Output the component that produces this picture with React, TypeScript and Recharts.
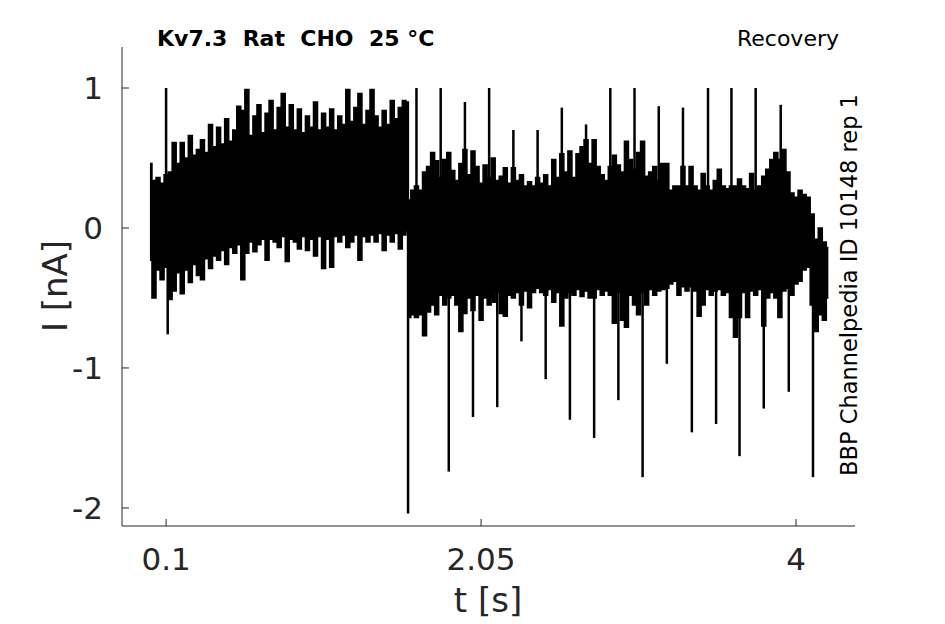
import React from "react";
import { ComposedChart, Area, XAxis, YAxis, ReferenceLine } from "recharts";

// Band of the noisy current trace: time [s], upper and lower envelope [nA]
const bandT = [
  0.0, 0.025, 0.05, 0.075, 0.1, 0.125, 0.15, 0.175, 0.2, 0.225, 0.25, 0.275, 0.3, 0.325, 0.35, 0.375,
  0.4, 0.425, 0.45, 0.475, 0.5, 0.525, 0.55, 0.575, 0.6, 0.625, 0.65, 0.675, 0.7, 0.725, 0.75, 0.775,
  0.8, 0.825, 0.85, 0.875, 0.9, 0.925, 0.95, 0.975, 1.0, 1.025, 1.05, 1.075, 1.1, 1.125, 1.15, 1.175,
  1.2, 1.225, 1.25, 1.275, 1.3, 1.325, 1.35, 1.375, 1.4, 1.425, 1.45, 1.475, 1.5, 1.525, 1.55, 1.575, 1.595,
  1.605, 1.625, 1.65, 1.675, 1.7, 1.725, 1.75, 1.775, 1.8, 1.825, 1.85, 1.875, 1.9, 1.925, 1.95, 1.975,
  2.0, 2.025, 2.05, 2.075, 2.1, 2.125, 2.15, 2.175, 2.2, 2.225, 2.25, 2.275, 2.3, 2.325, 2.35, 2.375,
  2.4, 2.425, 2.45, 2.475, 2.5, 2.525, 2.55, 2.575, 2.6, 2.625, 2.65, 2.675, 2.7, 2.725, 2.75, 2.775,
  2.8, 2.825, 2.85, 2.875, 2.9, 2.925, 2.95, 2.975, 3.0, 3.025, 3.05, 3.075, 3.1, 3.125, 3.15, 3.175,
  3.2, 3.225, 3.25, 3.275, 3.3, 3.325, 3.35, 3.375, 3.4, 3.425, 3.45, 3.475, 3.5, 3.525, 3.55, 3.575,
  3.6, 3.625, 3.65, 3.675, 3.7, 3.725, 3.75, 3.775, 3.8, 3.825, 3.85, 3.875, 3.9, 3.925, 3.95, 3.975,
  4.0, 4.025, 4.05, 4.075, 4.1, 4.125, 4.15, 4.175, 4.2,
];

const bandHi = [
  0.46, 0.34, 0.36, 0.32, 0.38, 0.4, 0.61, 0.46, 0.61, 0.5, 0.66, 0.52, 0.56, 0.63, 0.54, 0.74,
  0.58, 0.72, 0.6, 0.78, 0.62, 0.7, 0.87, 0.84, 0.99, 0.66, 0.8, 0.88, 0.68, 0.82, 0.91, 0.7,
  0.86, 0.96, 0.72, 0.88, 0.7, 0.85, 0.68, 0.8, 0.72, 0.9, 0.7, 0.82, 0.72, 0.85, 0.7, 0.8,
  0.74, 0.99, 0.76, 0.86, 0.96, 0.74, 0.84, 0.99, 0.8, 0.72, 0.84, 0.74, 0.91, 0.78, 0.86, 0.91, 0.9,
  0.2, 0.27, 0.3, 0.27, 0.4, 0.44, 0.54, 0.48, 0.36, 0.49, 0.54, 0.41, 0.34, 0.46, 0.56, 0.38,
  0.55, 0.44, 0.32, 0.45, 0.36, 0.5, 0.34, 0.37, 0.43, 0.32, 0.43, 0.34, 0.38, 0.3, 0.33, 0.3,
  0.36, 0.32, 0.38, 0.3, 0.49, 0.36, 0.53, 0.4, 0.55, 0.36, 0.53, 0.58, 0.63, 0.46, 0.63, 0.44,
  0.38, 0.34, 0.44, 0.52, 0.45, 0.4, 0.62, 0.49, 0.42, 0.54, 0.62, 0.37, 0.4, 0.44, 0.34, 0.46,
  0.46, 0.27, 0.3, 0.3, 0.44, 0.3, 0.44, 0.3, 0.27, 0.39, 0.3, 0.27, 0.34, 0.42, 0.3, 0.28,
  0.3, 0.3, 0.35, 0.3, 0.28, 0.39, 0.27, 0.3, 0.37, 0.42, 0.49, 0.54, 0.49, 0.56, 0.4, 0.25,
  0.22, 0.27, 0.24, 0.22, 0.1, -0.08, 0.0, -0.1, -0.14,
];

const bandLo = [
  -0.23, -0.5, -0.3, -0.37, -0.28, -0.51, -0.45, -0.32, -0.47, -0.3, -0.39, -0.26, -0.34, -0.37, -0.22, -0.29,
  -0.2, -0.23, -0.16, -0.26, -0.14, -0.18, -0.12, -0.37, -0.18, -0.1, -0.17, -0.12, -0.08, -0.23, -0.08, -0.1,
  -0.14, -0.06, -0.24, -0.08, -0.1, -0.15, -0.06, -0.16, -0.08, -0.2, -0.06, -0.29, -0.08, -0.28, -0.06, -0.1,
  -0.05, -0.14, -0.1, -0.05, -0.23, -0.06, -0.1, -0.05, -0.1, -0.04, -0.16, -0.05, -0.1, -0.04, -0.15, -0.05, -0.02,
  -0.64, -0.62, -0.64, -0.62, -0.77, -0.6, -0.55, -0.62, -0.48, -0.55, -0.5, -0.48, -0.55, -0.74, -0.61, -0.5,
  -0.59, -0.48, -0.66, -0.5, -0.55, -0.53, -0.46, -0.61, -0.63, -0.48, -0.5, -0.46, -0.55, -0.45, -0.57, -0.46,
  -0.43, -0.46, -0.48, -0.44, -0.53, -0.46, -0.7, -0.5, -0.46, -0.48, -0.44, -0.49, -0.45, -0.5, -0.5, -0.44,
  -0.48, -0.45, -0.48, -0.68, -0.46, -0.66, -0.71, -0.48, -0.55, -0.62, -0.46, -0.55, -0.44, -0.48, -0.45, -0.44,
  -0.43, -0.4, -0.38, -0.48, -0.42, -0.45, -0.42, -0.45, -0.63, -0.55, -0.44, -0.48, -0.45, -0.44, -0.48, -0.46,
  -0.64, -0.78, -0.64, -0.46, -0.64, -0.45, -0.48, -0.44, -0.7, -0.5, -0.46, -0.5, -0.64, -0.45, -0.43, -0.48,
  -0.4, -0.38, -0.3, -0.28, -0.55, -0.74, -0.62, -0.66, -0.5,
];

// Upward transients (time [s], peak [nA])
const upSpikeT = [0.1, 1.65, 1.8, 1.95, 2.1, 2.25, 2.4, 2.55, 2.7, 2.85, 3.0, 3.15, 3.3, 3.455, 3.6, 3.75, 3.905];
const upSpikeV = [1.0, 1.0, 1.0, 0.9, 1.0, 0.7, 0.7, 0.86, 0.74, 1.0, 1.0, 0.87, 0.86, 1.0, 1.0, 1.0, 0.88];

// Downward transients (time [s], trough [nA])
const downSpikeT = [0.11, 1.598, 1.85, 2.0, 2.15, 2.3, 2.45, 2.6, 2.75, 2.9, 3.05, 3.2, 3.355, 3.505, 3.65, 3.8, 3.955, 4.105];
const downSpikeV = [-0.76, -2.04, -1.74, -1.35, -1.28, -0.81, -1.08, -1.37, -1.5, -1.23, -1.78, -0.97, -1.46, -1.4, -1.63, -1.29, -1.17, -1.78];

const xTicks = [0.1, 2.05, 4];
const yTicks = [-2, -1, 0, 1];

const xDomain = [-0.173, 4.365];
const yDomain = [-2.129, 1.293];

const AX = "#262626";
const FONT = "DejaVu Sans";

const bandData = bandT.map((t, i) => ({ t, range: [bandLo[i], bandHi[i]] }));

const XTick = (props: any) => {
  const { x, y, payload } = props;
  return (
    <g>
      <line x1={x} x2={x} y1={y} y2={y - 7} stroke={AX} strokeWidth={1} />
      <text x={x} y={y + 44} textAnchor="middle" fontSize={31} fill={AX} fontFamily={FONT}>
        {String(payload.value)}
      </text>
    </g>
  );
};

const YTick = (props: any) => {
  const { x, y, payload } = props;
  return (
    <g>
      <line x1={x} x2={x + 7} y1={y} y2={y} stroke={AX} strokeWidth={1} />
      <text x={x - 19} y={y + 11} textAnchor="end" fontSize={31} fill={AX} fontFamily={FONT}>
        {String(payload.value)}
      </text>
    </g>
  );
};

export default function App() {
  return (
    <div style={{ position: "absolute", left: 0, top: 0, width: 945, height: 624, background: "#fff" }}>
      <ComposedChart
        width={945}
        height={624}
        data={bandData}
        margin={{ top: 47, right: 90, bottom: 38, left: 42 }}
      >
        <XAxis
          type="number"
          dataKey="t"
          domain={xDomain}
          ticks={xTicks}
          allowDataOverflow
          height={60}
          tickSize={0}
          tickMargin={0}
          tickLine={false}
          axisLine={{ stroke: AX, strokeWidth: 1 }}
          tick={<XTick />}
          interval={0}
        />
        <YAxis
          type="number"
          domain={yDomain}
          ticks={yTicks}
          allowDataOverflow
          width={80}
          tickSize={0}
          tickMargin={0}
          tickLine={false}
          axisLine={{ stroke: AX, strokeWidth: 1 }}
          tick={<YTick />}
          interval={0}
        />
        <Area
          type="step"
          dataKey="range"
          stroke="#000"
          strokeWidth={1.5}
          fill="#000"
          fillOpacity={1}
          isAnimationActive={false}
          dot={false}
          activeDot={false}
        />
        {upSpikeT.map((t, i) => (
          <ReferenceLine
            key={"u" + i}
            segment={[{ x: t, y: 0 }, { x: t, y: upSpikeV[i] }]}
            stroke="#000"
            strokeWidth={2.5}
            ifOverflow="visible"
          />
        ))}
        {downSpikeT.map((t, i) => (
          <ReferenceLine
            key={"d" + i}
            segment={[{ x: t, y: 0 }, { x: t, y: downSpikeV[i] }]}
            stroke="#000"
            strokeWidth={2.5}
            ifOverflow="visible"
          />
        ))}
      </ComposedChart>
      <svg
        width={945}
        height={624}
        style={{ position: "absolute", left: 0, top: 0, pointerEvents: "none" }}
      >
        <text x={157} y={46} fontSize={22} fontWeight="bold" fill="#000" fontFamily={FONT} style={{ whiteSpace: "pre" }}>
          {"Kv7.3  Rat  CHO  25 °C"}
        </text>
        <text x={839} y={46} fontSize={22} textAnchor="end" fill="#000" fontFamily={FONT}>
          Recovery
        </text>
        <text x={488} y={612} fontSize={34} textAnchor="middle" fill={AX} fontFamily={FONT}>
          t [s]
        </text>
        <text transform="translate(67,286) rotate(-90)" fontSize={34} textAnchor="middle" fill={AX} fontFamily={FONT}>
          I [nA]
        </text>
        <text transform="translate(857,285) rotate(-90)" fontSize={22.5} textAnchor="middle" fill="#000" fontFamily={FONT}>
          BBP Channelpedia ID 10148 rep 1
        </text>
      </svg>
    </div>
  );
}
